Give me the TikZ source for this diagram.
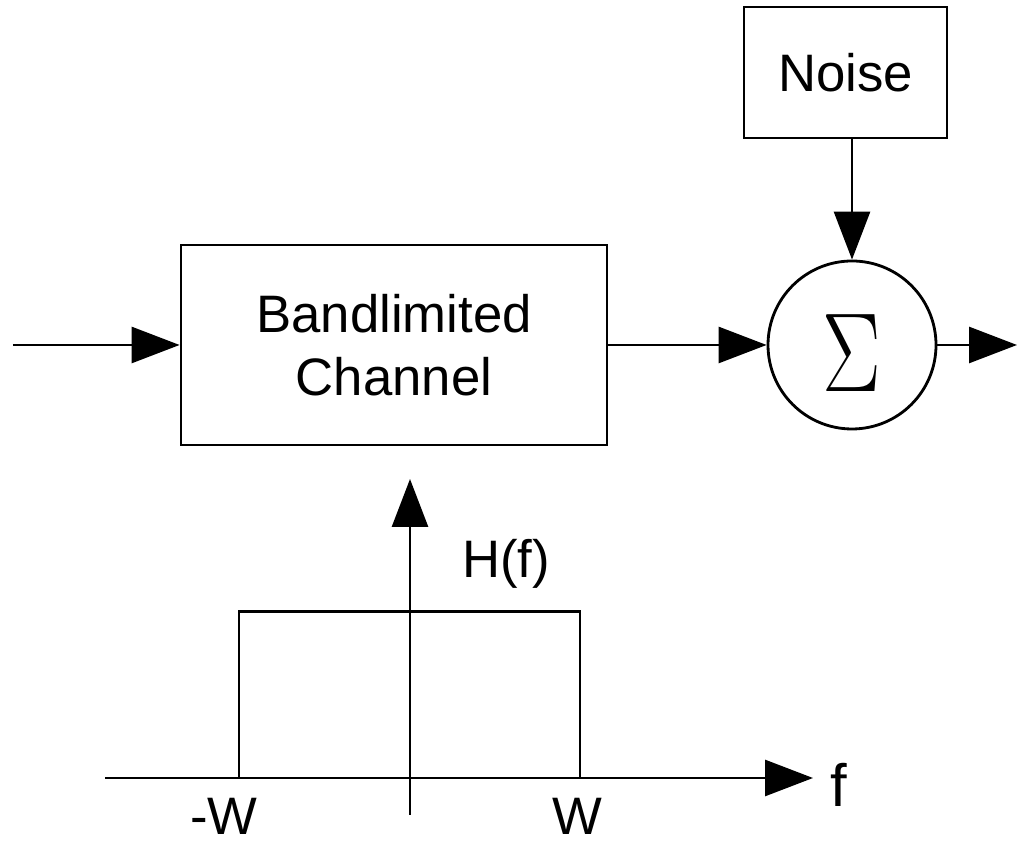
\documentclass[tikz,border=0pt]{standalone}
\usepackage{fontspec}
\setmainfont{Liberation Sans}
\newfontfamily\sigmafont{Latin Modern Roman}
\usetikzlibrary{arrows.meta, positioning, calc}
\tikzset{
  blk/.style={draw, line width=1.6pt, minimum width=8.52cm, minimum height=4cm,
              align=center, inner sep=0pt, font=\fontsize{30}{36}\selectfont},
  noisebox/.style={draw, line width=1.6pt, minimum width=4.06cm, minimum height=2.62cm,
                   inner sep=0pt, font=\fontsize{30}{36}\selectfont},
  sumnode/.style={draw, circle, line width=1.6pt, minimum size=3.36cm, inner sep=0pt,
                  text height=1.85cm, font=\sigmafont\fontsize{64}{64}\selectfont},
  sig/.style={-{Triangle[length=0.96cm,width=0.72cm]}, line width=1.6pt},
  lbl/.style={inner sep=0pt, font=\fontsize{30}{36}\selectfont},
}
\begin{document}
\begin{tikzpicture}
  \useasboundingbox (0,0) rectangle (20.36,16.9);
  % channel, noise and adder
  \coordinate (in) at (0.26,10);
  \node[blk] (chan) at (7.88,10) {Bandlimited\\Channel};
  \node[noisebox] (noise) at (16.91,15.45) {Noise};
  \node[sumnode] (sum) at (17.04,10) {\scalebox{0.78}[1]{Σ}};
  \coordinate (out) at (20.34,10);
  \draw[sig] (in) -- (chan);
  \draw[sig] (chan) -- (sum);
  \draw[sig] (noise.south -| sum) -- (sum);
  \draw[sig] (sum) -- (out);
  % frequency response
  \coordinate (fstart) at (2.1,1.34);
  \coordinate (fend) at (16.26,1.34);
  \coordinate (hbot) at (8.2,0.6);
  \coordinate (htop) at (8.2,7.32);
  \draw[sig] (fstart) -- (fend);
  \draw[sig] (hbot) -- (htop);
  \draw[line width=1.6pt] (4.78,1.34) |- (11.6,4.67) -- (11.6,1.34);
  \node[lbl, anchor=base] (hlab) at (10.12,5.34) {H(f)};
  \node[lbl, anchor=base] (wneg) at (4.48,0.2) {-W};
  \node[lbl, anchor=base] (wpos) at (11.54,0.2) {W};
  \node[lbl, anchor=base west, font=\fontsize{34}{40}\selectfont] (flab) at (16.6,0.76) {f};
\end{tikzpicture}
\end{document}
